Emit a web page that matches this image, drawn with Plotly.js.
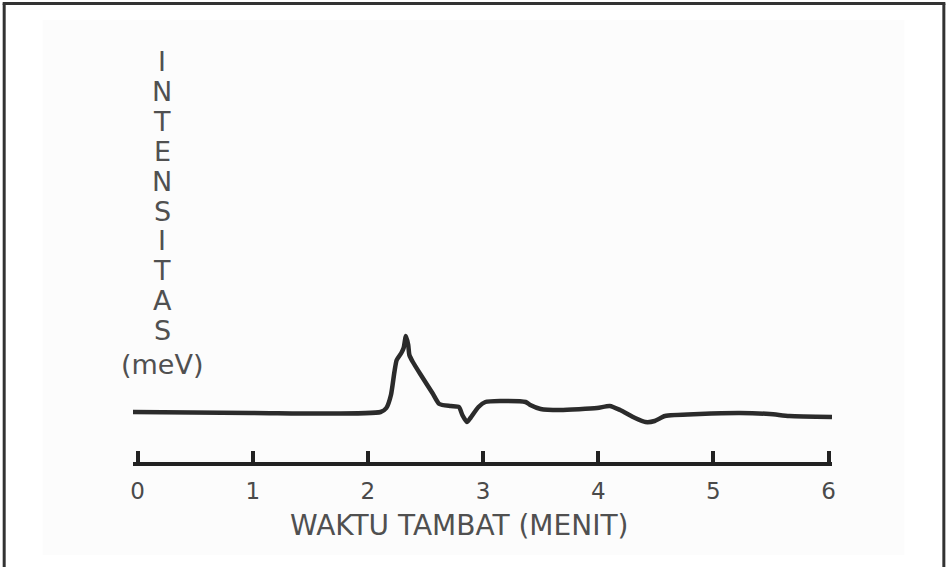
<!DOCTYPE html>
<html>
<head>
<meta charset="utf-8">
<script src="https://cdn.plot.ly/plotly-3.0.1.min.js"></script>
<style>html,body{margin:0;padding:0;background:#fff;}#chart{width:948px;height:567px;}</style>
</head>
<body>
<div id="chart"></div>
<script>
// Data
var timeMin = [-0.04, 0.99, 2.11, 2.16, 2.20, 2.23, 2.25, 2.29, 2.31, 2.33, 2.35, 2.36, 2.39, 2.46, 2.56, 2.62, 2.72, 2.79, 2.82, 2.86, 2.89, 2.96, 3.02, 3.15, 3.37, 3.41, 3.50, 3.67, 3.99, 4.10, 4.19, 4.32, 4.41, 4.49, 4.58, 4.88, 5.23, 5.49, 5.66, 6.03];
var intensity = [50, 49, 50, 54, 67, 90, 102, 109, 114, 126, 117, 107, 100, 87, 69, 58, 56, 55, 47, 40, 44, 55, 60, 61, 60, 57, 53, 52, 54, 56, 52, 44, 40, 41, 46, 48, 49, 48, 46, 45];
var tickVals = [0, 1, 2, 3, 4, 5, 6];
var tickText = ["0", "1", "2", "3", "4", "5", "6"];
var yTitleLetters = ["I", "N", "T", "E", "N", "S", "I", "T", "A", "S", "(meV)"];
var xTitle = "WAKTU TAMBAT (MENIT)";

// layout geometry
var L = 132.5, R = 832.5, T = 40, B = 462, W = 948, H = 567;
function px2x(p){ return (p - L) / (R - L); }
function py2y(p){ return (B - p) / (B - T); }

var annotations = [];
yTitleLetters.forEach(function(s, i){
  var py = (i < 10) ? 62 + i * 29.8 : 364;
  annotations.push({
    text: s, xref: 'paper', yref: 'paper', x: px2x(162), y: py2y(py),
    xanchor: 'center', yanchor: 'middle', showarrow: false,
    font: {family: 'DejaVu Sans', size: 27, color: '#505050'}
  });
});
annotations.push({
  text: xTitle, xref: 'paper', yref: 'paper', x: px2x(459), y: py2y(525),
  xanchor: 'center', yanchor: 'middle', showarrow: false,
  font: {family: 'DejaVu Sans', size: 28, color: '#505050'}
});

var shapes = [
  {type: 'rect', xref: 'paper', yref: 'paper', layer: 'below',
   x0: px2x(42), x1: px2x(905), y0: py2y(555), y1: py2y(20),
   fillcolor: '#fcfcfc', line: {width: 0}},
  {type: 'line', xref: 'paper', yref: 'paper', x0: px2x(3.5), x1: px2x(3.5), y0: py2y(3.5), y1: py2y(580), line: {color: '#333', width: 3}},
  {type: 'line', xref: 'paper', yref: 'paper', x0: px2x(944.5), x1: px2x(944.5), y0: py2y(3.5), y1: py2y(580), line: {color: '#333', width: 3}},
  {type: 'line', xref: 'paper', yref: 'paper', x0: px2x(2), x1: px2x(946), y0: py2y(3.5), y1: py2y(3.5), line: {color: '#333', width: 3}}
];

var trace = {
  x: timeMin, y: intensity, type: 'scatter', mode: 'lines',
  line: {color: '#2b2b2b', width: 4.5, shape: 'spline', smoothing: 0.6},
  hoverinfo: 'skip'
};

var layout = {
  width: W, height: H,
  margin: {l: L, r: W - R, t: T, b: H - B, pad: 0},
  paper_bgcolor: '#ffffff', plot_bgcolor: 'rgba(0,0,0,0)',
  showlegend: false,
  xaxis: {
    range: [-0.04, 6.03], showgrid: false, zeroline: false,
    showline: true, linewidth: 4, linecolor: '#222',
    ticks: 'inside', ticklen: 11, tickwidth: 4, tickcolor: '#222',
    tickvals: tickVals, ticktext: tickText, ticklabelstandoff: 5,
    tickfont: {family: 'DejaVu Sans', size: 23, color: '#4a4a4a'},
    fixedrange: true
  },
  yaxis: {range: [0, B - T], visible: false, fixedrange: true},
  annotations: annotations,
  shapes: shapes
};

Plotly.newPlot('chart', [trace], layout, {staticPlot: true, displayModeBar: false});
</script>
</body>
</html>
